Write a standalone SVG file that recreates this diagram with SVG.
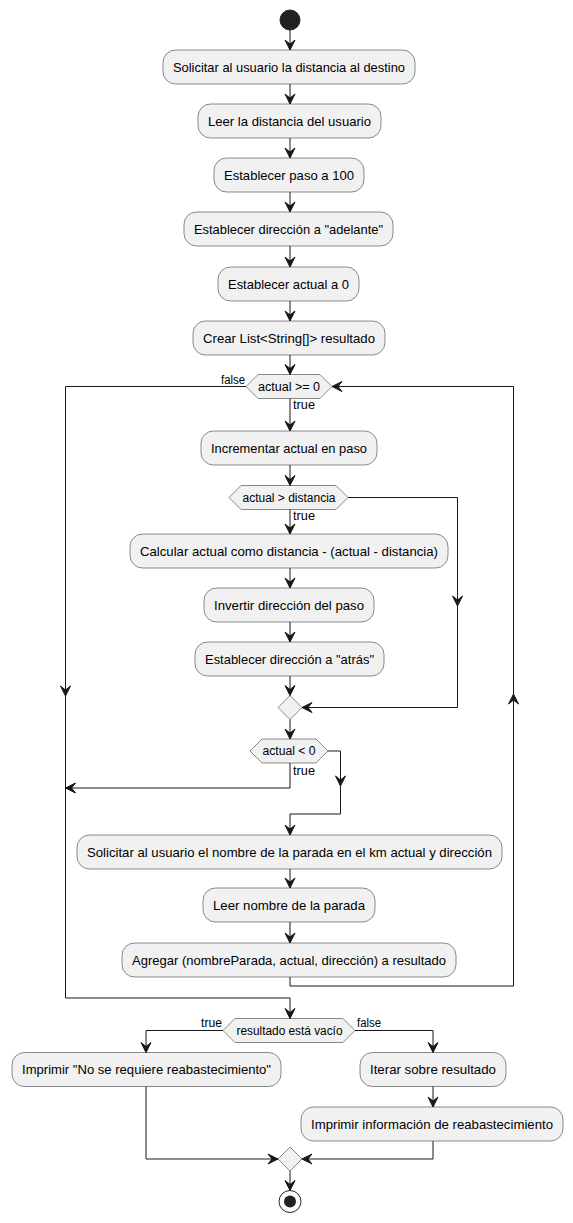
<svg xmlns="http://www.w3.org/2000/svg" xmlns:xlink="http://www.w3.org/1999/xlink" width="573" height="1223" viewBox="0 0 573 1223">
<style>
.box{fill:#F1F1F1;stroke:#181818;stroke-width:0.5}
.t{font-family:"Liberation Sans",Arial,sans-serif;font-size:13px;fill:#000;text-anchor:middle}
.ht{font-family:"Liberation Sans",Arial,sans-serif;font-size:12px;fill:#000;text-anchor:middle}
.lb{font-family:"Liberation Sans",Arial,sans-serif;font-size:12px;fill:#000}
.ln{fill:none;stroke:#181818;stroke-width:1}
.ah{fill:#181818;stroke:#181818;stroke-width:1}
</style>
<defs>
<marker id="arr" viewBox="-12 -6 13 12" refX="0" refY="0" markerWidth="13" markerHeight="12" markerUnits="userSpaceOnUse" orient="auto">
<path d="M0,0 L-10,-5 L-6,0 L-10,5 Z" fill="#181818" stroke="#181818" stroke-width="1"/>
</marker>
<path id="ahd" d="M0,0 L-5,-10 L0,-6 L5,-10 Z"/>
</defs>
<rect width="573" height="1223" fill="#FFFFFF"/>

<g id="start"><circle cx="290" cy="20" r="10" fill="#222222" stroke="#222222"/></g>

<g id="n1"><rect class="box" x="163" y="50" width="252" height="34" rx="12.5"/><text class="t" x="289" y="71.5" textLength="232" lengthAdjust="spacingAndGlyphs">Solicitar al usuario la distancia al destino</text></g>
<g id="n2"><rect class="box" x="198" y="104" width="183" height="34" rx="12.5"/><text class="t" x="289.5" y="125.5" textLength="163" lengthAdjust="spacingAndGlyphs">Leer la distancia del usuario</text></g>
<g id="n3"><rect class="box" x="214" y="158" width="150" height="34" rx="12.5"/><text class="t" x="289" y="179.5" textLength="130" lengthAdjust="spacingAndGlyphs">Establecer paso a 100</text></g>
<g id="n4"><rect class="box" x="184" y="212" width="209" height="34" rx="12.5"/><text class="t" x="288.5" y="233.5" textLength="189" lengthAdjust="spacingAndGlyphs">Establecer dirección a "adelante"</text></g>
<g id="n5"><rect class="box" x="218" y="267" width="141" height="34" rx="12.5"/><text class="t" x="288.5" y="288.5" textLength="121" lengthAdjust="spacingAndGlyphs">Establecer actual a 0</text></g>
<g id="n6"><rect class="box" x="193" y="321" width="192" height="34" rx="12.5"/><text class="t" x="289" y="342.5" textLength="172" lengthAdjust="spacingAndGlyphs">Crear List&lt;String[]&gt; resultado</text></g>

<g id="h1"><polygon class="box" points="246,386.5 258,374.5 320,374.5 332,386.5 320,398.5 258,398.5"/><text class="ht" x="289" y="390.5" textLength="62" lengthAdjust="spacingAndGlyphs">actual &gt;= 0</text></g>

<g id="n7"><rect class="box" x="201" y="431" width="176" height="34" rx="12.5"/><text class="t" x="289" y="452.5" textLength="156" lengthAdjust="spacingAndGlyphs">Incrementar actual en paso</text></g>

<g id="h2"><polygon class="box" points="229,497.5 241,485.5 336,485.5 348,497.5 336,509.5 241,509.5"/><text class="ht" x="289" y="501.5" textLength="93" lengthAdjust="spacingAndGlyphs">actual &gt; distancia</text></g>

<g id="n8"><rect class="box" x="130" y="534" width="318" height="34" rx="12.5"/><text class="t" x="289" y="555.5" textLength="298" lengthAdjust="spacingAndGlyphs">Calcular actual como distancia - (actual - distancia)</text></g>
<g id="n9"><rect class="box" x="204" y="588" width="170" height="34" rx="12.5"/><text class="t" x="289" y="609.5" textLength="150" lengthAdjust="spacingAndGlyphs">Invertir dirección del paso</text></g>
<g id="n10"><rect class="box" x="195" y="642" width="189" height="34" rx="12.5"/><text class="t" x="289.5" y="663.5" textLength="169" lengthAdjust="spacingAndGlyphs">Establecer dirección a "atrás"</text></g>

<g id="m1"><polygon class="box" points="278,707.5 290,695.5 302,707.5 290,719.5"/></g>

<g id="h3"><polygon class="box" points="250,751 262,739 316,739 328,751 316,763 262,763"/><text class="ht" x="289" y="755" textLength="53" lengthAdjust="spacingAndGlyphs">actual &lt; 0</text></g>

<g id="n11"><rect class="box" x="77" y="835" width="425" height="34" rx="12.5"/><text class="t" x="289.5" y="856.5" textLength="405" lengthAdjust="spacingAndGlyphs">Solicitar al usuario el nombre de la parada en el km actual y dirección</text></g>
<g id="n12"><rect class="box" x="203" y="888" width="172" height="34" rx="12.5"/><text class="t" x="289" y="909.5" textLength="152" lengthAdjust="spacingAndGlyphs">Leer nombre de la parada</text></g>
<g id="n13"><rect class="box" x="122" y="943" width="334" height="34" rx="12.5"/><text class="t" x="289" y="964.5" textLength="314" lengthAdjust="spacingAndGlyphs">Agregar (nombreParada, actual, dirección) a resultado</text></g>

<g id="h4"><polygon class="box" points="223,1030.5 235,1018.5 343,1018.5 355,1030.5 343,1042.5 235,1042.5"/><text class="ht" x="289.5" y="1034.5" textLength="106" lengthAdjust="spacingAndGlyphs">resultado está vacío</text></g>

<g id="n14"><rect class="box" x="12" y="1052.5" width="269" height="34" rx="12.5"/><text class="t" x="146.5" y="1074" textLength="249" lengthAdjust="spacingAndGlyphs">Imprimir "No se requiere reabastecimiento"</text></g>
<g id="n15"><rect class="box" x="360" y="1052.5" width="146" height="34" rx="12.5"/><text class="t" x="433" y="1074" textLength="126" lengthAdjust="spacingAndGlyphs">Iterar sobre resultado</text></g>
<g id="n16"><rect class="box" x="301" y="1107" width="262" height="34" rx="12.5"/><text class="t" x="432" y="1128.5" textLength="242" lengthAdjust="spacingAndGlyphs">Imprimir información de reabastecimiento</text></g>

<g id="m2"><polygon class="box" points="278,1159 290,1147 302,1159 290,1171"/></g>

<g id="end"><circle cx="290" cy="1201.5" r="11" fill="none" stroke="#222222" stroke-width="1"/><circle cx="290" cy="1201.5" r="6" fill="#222222"/></g>

<g id="connectors">
<line class="ln" x1="290" y1="30" x2="290" y2="50" marker-end="url(#arr)"/>
<line class="ln" x1="290" y1="84" x2="290" y2="104" marker-end="url(#arr)"/>
<line class="ln" x1="290" y1="138" x2="290" y2="158" marker-end="url(#arr)"/>
<line class="ln" x1="290" y1="192" x2="290" y2="212" marker-end="url(#arr)"/>
<line class="ln" x1="290" y1="246" x2="290" y2="267" marker-end="url(#arr)"/>
<line class="ln" x1="290" y1="301" x2="290" y2="321" marker-end="url(#arr)"/>
<line class="ln" x1="290" y1="355" x2="290" y2="374.5" marker-end="url(#arr)"/>
<line class="ln" x1="290" y1="398.5" x2="290" y2="431" marker-end="url(#arr)"/>
<text class="lb" x="293" y="409" textLength="22" lengthAdjust="spacingAndGlyphs">true</text>
<polyline class="ln" points="246,386.5 65.5,386.5 65.5,998 290,998 290,1018.5" marker-end="url(#arr)"/>
<text class="lb" x="221" y="384" textLength="24" lengthAdjust="spacingAndGlyphs">false</text>
<use href="#ahd" class="ah" transform="translate(65.5,696)"/>
<line class="ln" x1="290" y1="465" x2="290" y2="485.5" marker-end="url(#arr)"/>
<line class="ln" x1="290" y1="509.5" x2="290" y2="534" marker-end="url(#arr)"/>
<text class="lb" x="293" y="520" textLength="22" lengthAdjust="spacingAndGlyphs">true</text>
<polyline class="ln" points="348,497.5 457.5,497.5 457.5,707.5 302,707.5" marker-end="url(#arr)"/>
<use href="#ahd" class="ah" transform="translate(457.5,606)"/>
<line class="ln" x1="290" y1="568" x2="290" y2="588" marker-end="url(#arr)"/>
<line class="ln" x1="290" y1="622" x2="290" y2="642" marker-end="url(#arr)"/>
<line class="ln" x1="290" y1="676" x2="290" y2="695.5" marker-end="url(#arr)"/>
<line class="ln" x1="290" y1="719.5" x2="290" y2="739" marker-end="url(#arr)"/>
<polyline class="ln" points="290,763 290,788 65.5,788" marker-end="url(#arr)"/>
<text class="lb" x="293" y="775" textLength="22" lengthAdjust="spacingAndGlyphs">true</text>
<polyline class="ln" points="328,751 340.5,751 340.5,814 290,814 290,835" marker-end="url(#arr)"/>
<use href="#ahd" class="ah" transform="translate(340.5,786)"/>
<line class="ln" x1="290" y1="869" x2="290" y2="888" marker-end="url(#arr)"/>
<line class="ln" x1="290" y1="922" x2="290" y2="943" marker-end="url(#arr)"/>
<polyline class="ln" points="290,977 290,986 513.5,986 513.5,386.5 332,386.5" marker-end="url(#arr)"/>
<use href="#ahd" class="ah" transform="translate(513.5,694) rotate(180)"/>
<polyline class="ln" points="223,1030.5 146,1030.5 146,1052.5" marker-end="url(#arr)"/>
<text class="lb" x="201" y="1027" textLength="21" lengthAdjust="spacingAndGlyphs">true</text>
<polyline class="ln" points="355,1030.5 433,1030.5 433,1052.5" marker-end="url(#arr)"/>
<text class="lb" x="357" y="1027" textLength="24" lengthAdjust="spacingAndGlyphs">false</text>
<polyline class="ln" points="146,1086.5 146,1159 278,1159" marker-end="url(#arr)"/>
<line class="ln" x1="433" y1="1086.5" x2="433" y2="1107" marker-end="url(#arr)"/>
<polyline class="ln" points="433,1141 433,1159 302,1159" marker-end="url(#arr)"/>
<line class="ln" x1="290" y1="1171" x2="290" y2="1190.5" marker-end="url(#arr)"/>
</g>
</svg>
